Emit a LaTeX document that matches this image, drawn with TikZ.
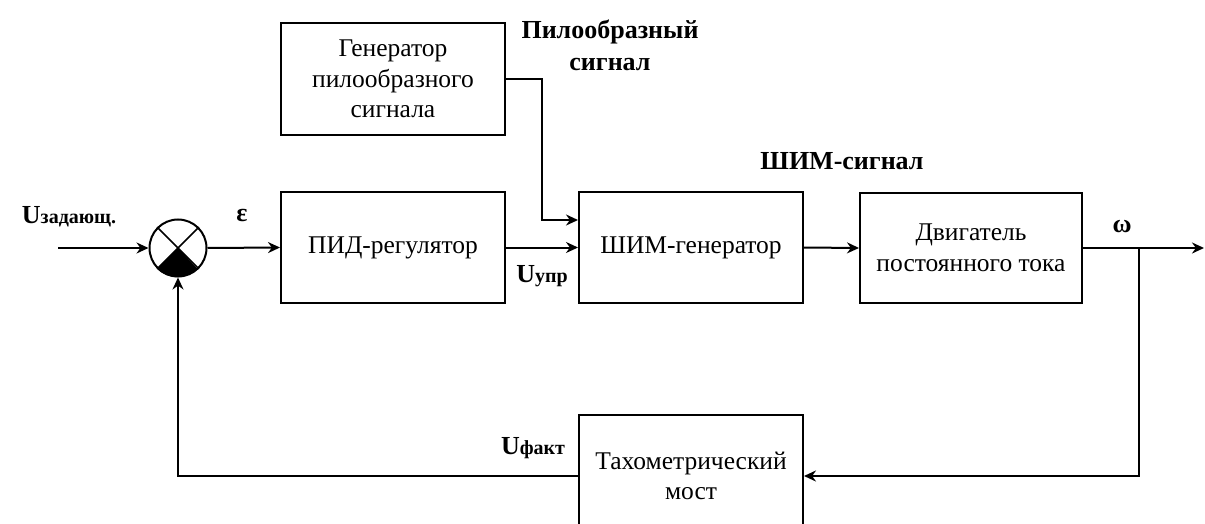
\documentclass[tikz,border=0pt]{standalone}
\usepackage{fontspec}
\setmainfont{Liberation Serif}
\usetikzlibrary{arrows.meta}
\tikzstyle{blockr}=[draw,rectangle,line width=2pt,align=center,font=\fontsize{25.5}{30.5}\selectfont,inner sep=0pt]
\tikzstyle{lblr}=[align=center,font=\bfseries\fontsize{26}{32}\selectfont,inner sep=0pt]
\tikzstyle{arr}=[line width=2pt,-{Stealth[length=12pt,width=11pt]}]
\newcommand{\subr}[1]{{\fontsize{20}{20}\selectfont #1}}

\begin{document}
\begin{tikzpicture}[x=1pt,y=-1pt]
    \useasboundingbox (0,0) rectangle (1205,524);
    \node[blockr,minimum width=224,minimum height=112] (saw) at (393,79) {Генератор\\пилообразного\\сигнала};
    \node[blockr,minimum width=224,minimum height=111] (pid) at (393,247.5) {ПИД-регулятор};
    \node[blockr,minimum width=224,minimum height=111] (pwm) at (691,247.5) {ШИМ-генератор};
    \node[blockr,minimum width=222,minimum height=110] (motor) at (971,248) {Двигатель\\постоянного тока};
    \node[blockr,minimum width=224,minimum height=122] (tacho) at (691,476) {Тахометрический\\мост};
    \node[draw,circle,line width=2pt,minimum size=57,inner sep=0pt] (sum) at (178,248) {};

    \fill (sum.center) -- (sum.225) arc[start angle=225,end angle=315,radius=28.5pt] -- cycle;
    \draw[line width=1.5pt] (sum.45) -- (sum.225);
    \draw[line width=1.5pt] (sum.135) -- (sum.315);

    \node[lblr] (uzad) at (69,217) {U\subr{задающ.}};
    \node[lblr] (eps) at (242,216) {ε};
    \node[lblr] (uupr) at (542,276) {U\subr{упр}};
    \node[lblr] (ufakt) at (533,448) {U\subr{факт}};
    \node[lblr] (sawlbl) at (610,45) {Пилообразный\\сигнал};
    \node[lblr] (pwmlbl) at (842,161) {ШИМ-сигнал};
    \node[lblr] (omega) at (1122,227) {ω};

    \coordinate (in) at (58,248);
    \coordinate (branch) at (1139,248);
    \coordinate (out) at (1204,248);
    \coordinate (sawbend) at (542,220);

    \foreach \from/\to in {in/sum.west,sum.east/pid.west,pid.east/pwm.west,pwm.east/motor.west,motor.east/out}
    \draw[arr] (\from) -- (\to);
    \draw[arr] (saw.east) -| (sawbend) -- (sawbend -| pwm.west);
    \draw[arr] (branch) |- (tacho.east);
    \draw[arr] (tacho.west) -| (sum.south);
\end{tikzpicture}
\end{document}
